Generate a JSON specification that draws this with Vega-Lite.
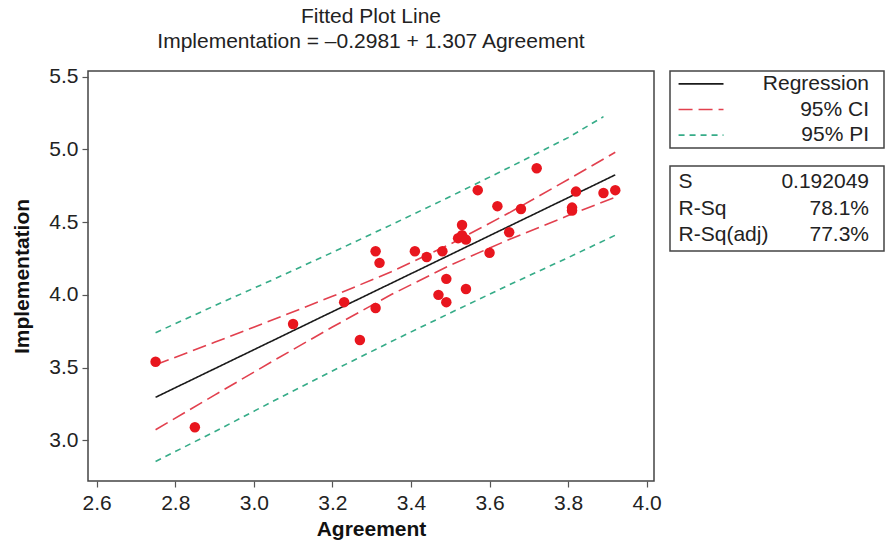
{
  "$schema": "https://vega.github.io/schema/vega-lite/v6.json",
  "padding": {"left": 11, "top": 5, "right": 0, "bottom": 0},
  "bounds": "flush",
  "spacing": 16,
  "config": {
    "font": "Liberation Sans",
    "view": {"stroke": "#444444", "strokeWidth": 1.5},
    "axis": {"grid": false, "domain": false, "tickColor": "#555555", "tickWidth": 1.2, "tickSize": 6,
             "labelFontSize": 21, "labelColor": "#222222", "titleFontSize": 21, "titleFontWeight": "bold", "titleColor": "#111111"}
  },
  "datasets": {
    "points": [
      {"Agreement": 2.75, "Implementation": 3.54},
      {"Agreement": 2.85, "Implementation": 3.09},
      {"Agreement": 3.10, "Implementation": 3.80},
      {"Agreement": 3.23, "Implementation": 3.95},
      {"Agreement": 3.31, "Implementation": 3.91},
      {"Agreement": 3.27, "Implementation": 3.69},
      {"Agreement": 3.31, "Implementation": 4.30},
      {"Agreement": 3.32, "Implementation": 4.22},
      {"Agreement": 3.41, "Implementation": 4.30},
      {"Agreement": 3.44, "Implementation": 4.26},
      {"Agreement": 3.48, "Implementation": 4.30},
      {"Agreement": 3.47, "Implementation": 4.00},
      {"Agreement": 3.49, "Implementation": 4.11},
      {"Agreement": 3.49, "Implementation": 3.95},
      {"Agreement": 3.54, "Implementation": 4.04},
      {"Agreement": 3.52, "Implementation": 4.39},
      {"Agreement": 3.53, "Implementation": 4.48},
      {"Agreement": 3.53, "Implementation": 4.41},
      {"Agreement": 3.54, "Implementation": 4.38},
      {"Agreement": 3.57, "Implementation": 4.72},
      {"Agreement": 3.60, "Implementation": 4.29},
      {"Agreement": 3.62, "Implementation": 4.61},
      {"Agreement": 3.65, "Implementation": 4.43},
      {"Agreement": 3.68, "Implementation": 4.59},
      {"Agreement": 3.72, "Implementation": 4.87},
      {"Agreement": 3.81, "Implementation": 4.58},
      {"Agreement": 3.81, "Implementation": 4.60},
      {"Agreement": 3.82, "Implementation": 4.71},
      {"Agreement": 3.89, "Implementation": 4.70},
      {"Agreement": 3.92, "Implementation": 4.72}
    ],
    "fit": [
      {"series": "Regression", "band": "fit", "Agreement": 2.75, "Implementation": 3.296},
      {"series": "Regression", "band": "fit", "Agreement": 3.92, "Implementation": 4.825},
      {"series": "95% CI", "band": "upper", "Agreement": 2.75, "Implementation": 3.519},
      {"series": "95% CI", "band": "upper", "Agreement": 2.90, "Implementation": 3.674},
      {"series": "95% CI", "band": "upper", "Agreement": 3.05, "Implementation": 3.830},
      {"series": "95% CI", "band": "upper", "Agreement": 3.20, "Implementation": 3.990},
      {"series": "95% CI", "band": "upper", "Agreement": 3.35, "Implementation": 4.159},
      {"series": "95% CI", "band": "upper", "Agreement": 3.50, "Implementation": 4.349},
      {"series": "95% CI", "band": "upper", "Agreement": 3.65, "Implementation": 4.564},
      {"series": "95% CI", "band": "upper", "Agreement": 3.80, "Implementation": 4.793},
      {"series": "95% CI", "band": "upper", "Agreement": 3.92, "Implementation": 4.980},
      {"series": "95% CI", "band": "lower", "Agreement": 2.75, "Implementation": 3.073},
      {"series": "95% CI", "band": "lower", "Agreement": 2.90, "Implementation": 3.311},
      {"series": "95% CI", "band": "lower", "Agreement": 3.05, "Implementation": 3.547},
      {"series": "95% CI", "band": "lower", "Agreement": 3.20, "Implementation": 3.779},
      {"series": "95% CI", "band": "lower", "Agreement": 3.35, "Implementation": 4.002},
      {"series": "95% CI", "band": "lower", "Agreement": 3.50, "Implementation": 4.204},
      {"series": "95% CI", "band": "lower", "Agreement": 3.65, "Implementation": 4.381},
      {"series": "95% CI", "band": "lower", "Agreement": 3.80, "Implementation": 4.545},
      {"series": "95% CI", "band": "lower", "Agreement": 3.92, "Implementation": 4.671},
      {"series": "95% PI", "band": "upper", "Agreement": 2.75, "Implementation": 3.740},
      {"series": "95% PI", "band": "upper", "Agreement": 2.90, "Implementation": 3.925},
      {"series": "95% PI", "band": "upper", "Agreement": 3.05, "Implementation": 4.106},
      {"series": "95% PI", "band": "upper", "Agreement": 3.20, "Implementation": 4.292},
      {"series": "95% PI", "band": "upper", "Agreement": 3.35, "Implementation": 4.482},
      {"series": "95% PI", "band": "upper", "Agreement": 3.50, "Implementation": 4.676},
      {"series": "95% PI", "band": "upper", "Agreement": 3.65, "Implementation": 4.876},
      {"series": "95% PI", "band": "upper", "Agreement": 3.80, "Implementation": 5.081},
      {"series": "95% PI", "band": "upper", "Agreement": 3.89, "Implementation": 5.225},
      {"series": "95% PI", "band": "lower", "Agreement": 2.75, "Implementation": 2.855},
      {"series": "95% PI", "band": "lower", "Agreement": 2.90, "Implementation": 3.059},
      {"series": "95% PI", "band": "lower", "Agreement": 3.05, "Implementation": 3.270},
      {"series": "95% PI", "band": "lower", "Agreement": 3.20, "Implementation": 3.477},
      {"series": "95% PI", "band": "lower", "Agreement": 3.35, "Implementation": 3.679},
      {"series": "95% PI", "band": "lower", "Agreement": 3.50, "Implementation": 3.876},
      {"series": "95% PI", "band": "lower", "Agreement": 3.65, "Implementation": 4.069},
      {"series": "95% PI", "band": "lower", "Agreement": 3.80, "Implementation": 4.256},
      {"series": "95% PI", "band": "lower", "Agreement": 3.92, "Implementation": 4.410}
    ],
    "legendItems": [
      {"series": "Regression"},
      {"series": "95% CI"},
      {"series": "95% PI"}
    ],
    "stats": [
      {"stat": "S", "value": "0.192049"},
      {"stat": "R-Sq", "value": "78.1%"},
      {"stat": "R-Sq(adj)", "value": "77.3%"}
    ]
  },
  "hconcat": [
    {
      "width": 566,
      "height": 410,
      "title": {
        "text": ["Fitted Plot Line", "Implementation = –0.2981 + 1.307 Agreement"],
        "fontSize": 21, "fontWeight": "normal", "color": "#222222",
        "anchor": "middle", "frame": "group", "lineHeight": 24.5, "offset": 14
      },
      "layer": [
        {
          "data": {"name": "fit"},
          "mark": {"type": "line", "strokeWidth": 1.6},
          "encoding": {
            "x": {"field": "Agreement", "type": "quantitative",
                  "scale": {"domain": [2.578, 4.0186], "nice": false, "zero": false},
                  "axis": {"values": [2.6, 2.8, 3.0, 3.2, 3.4, 3.6, 3.8, 4.0], "format": ".1f", "title": "Agreement", "labelPadding": 5, "titlePadding": 5}},
            "y": {"field": "Implementation", "type": "quantitative",
                  "scale": {"domain": [2.7205, 5.539], "nice": false, "zero": false},
                  "axis": {"values": [3.0, 3.5, 4.0, 4.5, 5.0, 5.5], "format": ".1f", "title": "Implementation", "labelPadding": 4, "titlePadding": 16}},
            "color": {"field": "series", "type": "nominal",
                      "scale": {"domain": ["Regression", "95% CI", "95% PI"], "range": ["#1a1a1a", "#E2404E", "#36AC88"]},
                      "legend": null},
            "strokeDash": {"field": "series", "type": "nominal",
                           "scale": {"domain": ["Regression", "95% CI", "95% PI"], "range": [[1, 0], [14, 6], [6, 5]]},
                           "legend": null},
            "detail": {"field": "band", "type": "nominal"}
          }
        },
        {
          "data": {"name": "points"},
          "mark": {"type": "point", "filled": true, "size": 110, "opacity": 1, "color": "#E8161E"},
          "encoding": {
            "x": {"field": "Agreement", "type": "quantitative"},
            "y": {"field": "Implementation", "type": "quantitative"}
          }
        }
      ]
    },
    {
      "bounds": "flush",
      "spacing": 18,
      "vconcat": [
        {
          "width": 214,
          "height": 77,
          "data": {"name": "legendItems"},
          "layer": [
            {
              "mark": {"type": "rule", "strokeWidth": 1.6},
              "encoding": {
                "x": {"datum": 0.04, "type": "quantitative", "scale": {"domain": [0, 1]}, "axis": null},
                "x2": {"datum": 0.25},
                "y": {"field": "series", "type": "ordinal", "sort": ["Regression", "95% CI", "95% PI"],
                      "scale": {"type": "point", "padding": 0.5}, "axis": null},
                "color": {"field": "series", "type": "nominal",
                          "scale": {"domain": ["Regression", "95% CI", "95% PI"], "range": ["#1a1a1a", "#E2404E", "#36AC88"]},
                          "legend": null},
                "strokeDash": {"field": "series", "type": "nominal",
                               "scale": {"domain": ["Regression", "95% CI", "95% PI"], "range": [[1, 0], [14, 6], [6, 5]]},
                               "legend": null}
              }
            },
            {
              "mark": {"type": "text", "align": "right", "baseline": "middle", "fontSize": 21, "color": "#222222"},
              "encoding": {
                "x": {"datum": 0.93, "type": "quantitative"},
                "y": {"field": "series", "type": "ordinal", "sort": ["Regression", "95% CI", "95% PI"]},
                "text": {"field": "series"}
              }
            }
          ]
        },
        {
          "width": 214,
          "height": 85,
          "data": {"name": "stats"},
          "layer": [
            {
              "mark": {"type": "text", "align": "left", "baseline": "middle", "fontSize": 21, "color": "#222222"},
              "encoding": {
                "x": {"datum": 0.04, "type": "quantitative", "scale": {"domain": [0, 1]}, "axis": null},
                "y": {"field": "stat", "type": "ordinal", "sort": ["S", "R-Sq", "R-Sq(adj)"],
                      "scale": {"type": "point", "padding": 0.6}, "axis": null},
                "text": {"field": "stat"}
              }
            },
            {
              "mark": {"type": "text", "align": "right", "baseline": "middle", "fontSize": 21, "color": "#222222"},
              "encoding": {
                "x": {"datum": 0.93, "type": "quantitative"},
                "y": {"field": "stat", "type": "ordinal", "sort": ["S", "R-Sq", "R-Sq(adj)"]},
                "text": {"field": "value"}
              }
            }
          ]
        }
      ]
    }
  ]
}
